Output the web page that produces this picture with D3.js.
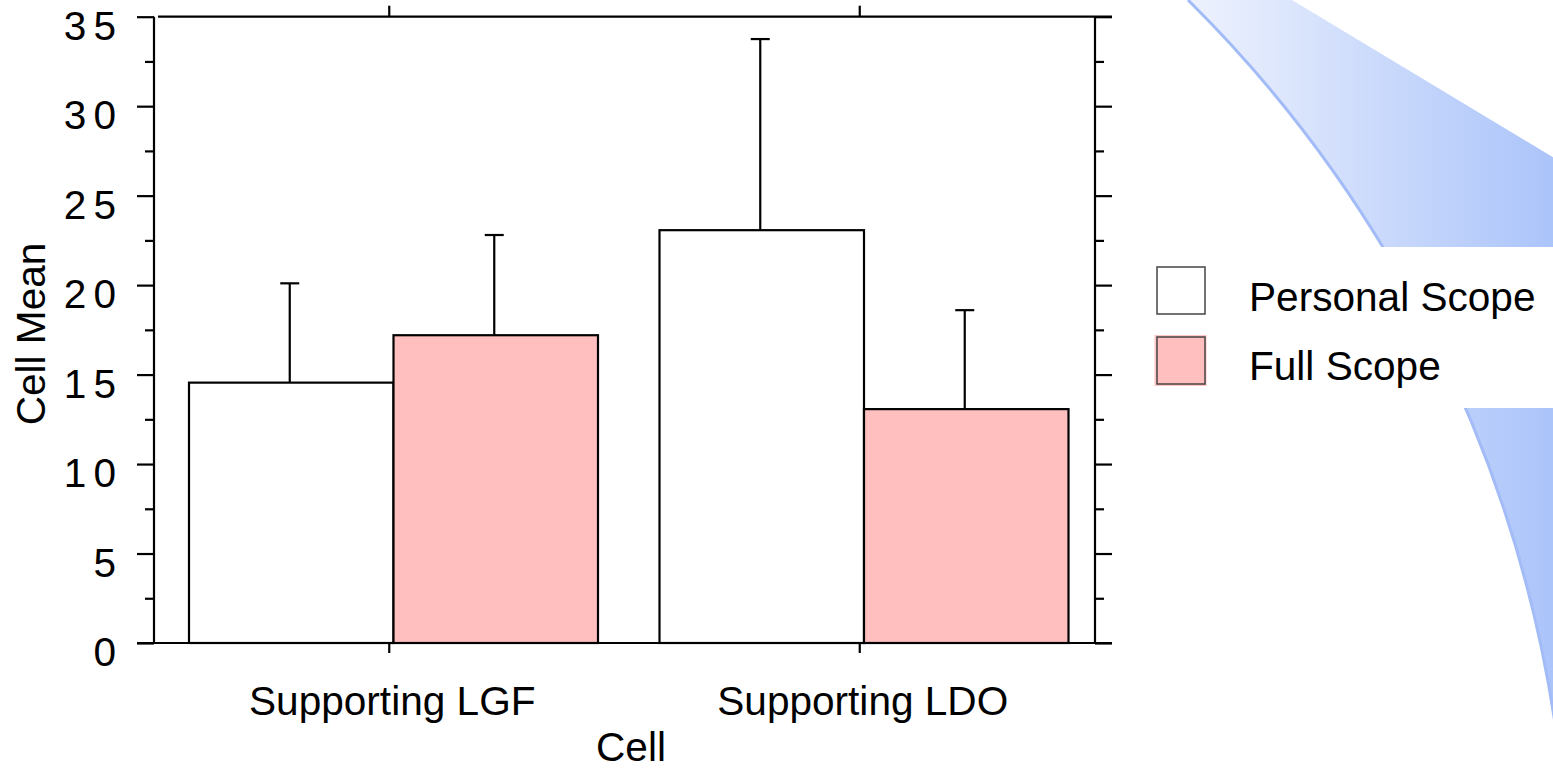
<!DOCTYPE html>
<html>
<head>
<meta charset="utf-8">
<script src="https://cdn.jsdelivr.net/npm/d3@7"></script>
<style>
  html, body { margin: 0; padding: 0; background: #fff; }
  svg { display: block; }
  text { font-family: "Liberation Sans", Arial, sans-serif; fill: #000; }
</style>
</head>
<body>
<svg id="chart" width="1553" height="769"></svg>
<script>
// ---- data ----
const categories = ["Supporting LGF", "Supporting LDO"];
const seriesNames = ["Personal Scope", "Full Scope"];
const personalMeans = [14.55, 23.07];
const personalErrTop = [20.1, 33.75];
const fullMeans = [17.2, 13.07];
const fullErrTop = [22.8, 18.6];
const yTickValues = [0, 5, 10, 15, 20, 25, 30, 35];
const seriesColors = ["#ffffff", "#ffbfbf"];

const svg = d3.select("#chart");
const FS = 40.6;

// ---- decorative background shape ----
const defs = svg.append("defs");
const grad = defs.append("linearGradient").attr("id", "bg").attr("gradientUnits", "userSpaceOnUse")
  .attr("x1", 1188).attr("y1", 0).attr("x2", 1553).attr("y2", 0);
grad.append("stop").attr("offset", 0).attr("stop-color", "#eef2fd");
grad.append("stop").attr("offset", 1).attr("stop-color", "#abc4fa");
const R = 1285;
svg.append("path")
  .attr("d", `M1188,0 A${R},${R} 0 0 1 1556,730 L1556,159 L1292,0 Z`)
  .attr("fill", "url(#bg)");
svg.append("path")
  .attr("d", `M1188,0 A${R},${R} 0 0 1 1556,730`)
  .attr("fill", "none").attr("stroke", "#a3bcf7").attr("stroke-width", 3);
// legend background occludes the shape
svg.append("rect").attr("x", 1120).attr("y", 247).attr("width", 440).attr("height", 161).attr("fill", "#fff");

// ---- scales ----
const x0 = d3.scaleBand().domain(categories).range([154, 1095]).padding(0);
const x1 = d3.scaleBand().domain(seriesNames).range([35, 444]).padding(0);
const y = d3.scaleLinear().domain([0, 35]).range([643, 16.7]);

const data = categories.map((c, i) => ({
  cat: c,
  vals: [
    { s: seriesNames[0], v: personalMeans[i], e: personalErrTop[i] },
    { s: seriesNames[1], v: fullMeans[i], e: fullErrTop[i] }
  ]
}));

// ---- bars ----
const g = svg.append("g");
const groups = g.selectAll("g.grp").data(data).join("g")
  .attr("transform", d => `translate(${x0(d.cat)},0)`);

groups.selectAll("line.err").data(d => d.vals).join("line")
  .attr("x1", d => x1(d.s) + x1.bandwidth() / 2 - 1.5)
  .attr("x2", d => x1(d.s) + x1.bandwidth() / 2 - 1.5)
  .attr("y1", d => y(d.v)).attr("y2", d => y(d.e))
  .attr("stroke", "#000").attr("stroke-width", 2.2);
groups.selectAll("line.cap").data(d => d.vals).join("line")
  .attr("x1", d => x1(d.s) + x1.bandwidth() / 2 - 11)
  .attr("x2", d => x1(d.s) + x1.bandwidth() / 2 + 8)
  .attr("y1", d => y(d.e)).attr("y2", d => y(d.e))
  .attr("stroke", "#000").attr("stroke-width", 2.2);

groups.selectAll("rect").data(d => d.vals).join("rect")
  .attr("x", d => x1(d.s))
  .attr("width", x1.bandwidth())
  .attr("y", d => y(d.v))
  .attr("height", d => y(0) - y(d.v))
  .attr("fill", (d, i) => seriesColors[i])
  .attr("stroke", "#000").attr("stroke-width", 2.2);

// ---- axes ----
const minorTicks = d3.range(2.5, 35, 5);
function styleAxis(sel) {
  sel.select(".domain").remove();
  sel.selectAll("line").attr("stroke", "#000").attr("stroke-width", 2.2);
}
svg.append("g").attr("transform", "translate(154,0)")
  .call(d3.axisLeft(y).tickValues(yTickValues).tickSize(17).tickFormat(""))
  .call(styleAxis);
svg.append("g").attr("transform", "translate(154,0)")
  .call(d3.axisLeft(y).tickValues(minorTicks).tickSize(9).tickFormat(""))
  .call(styleAxis);
svg.append("g").attr("transform", "translate(1095,0)")
  .call(d3.axisRight(y).tickValues(yTickValues).tickSize(17).tickFormat(""))
  .call(styleAxis);
svg.append("g").attr("transform", "translate(1095,0)")
  .call(d3.axisRight(y).tickValues(minorTicks).tickSize(9).tickFormat(""))
  .call(styleAxis);
svg.append("g").attr("transform", "translate(0,16.7)")
  .call(d3.axisTop(x0).tickSize(11).tickFormat(""))
  .call(styleAxis);
svg.append("g").attr("transform", "translate(0,643)")
  .call(d3.axisBottom(x0).tickSize(10).tickFormat(""))
  .call(styleAxis);

// frame lines
const frame = svg.append("g").attr("stroke", "#000").attr("stroke-width", 2.2);
frame.append("line").attr("x1", 154).attr("x2", 154).attr("y1", 16.7).attr("y2", 643);
frame.append("line").attr("x1", 1095).attr("x2", 1095).attr("y1", 16.7).attr("y2", 643);
frame.append("line").attr("x1", 158).attr("x2", 1112).attr("y1", 16.7).attr("y2", 16.7);
frame.append("line").attr("x1", 137).attr("x2", 1112).attr("y1", 643).attr("y2", 643);

// y tick labels
svg.append("g").selectAll("text").data(yTickValues).join("text")
  .attr("x", 123).attr("y", d => y(d) + 23)
  .attr("text-anchor", "end")
  .attr("font-size", FS)
  .attr("letter-spacing", 7)
  .text(d => d);

// category labels
svg.append("g").selectAll("text").data(categories).join("text")
  .attr("x", d => x0(d) + x0.bandwidth() / 2 + 3)
  .attr("y", 715)
  .attr("text-anchor", "middle")
  .attr("font-size", FS)
  .text(d => d);

// axis titles
svg.append("text").attr("x", 631).attr("y", 761).attr("text-anchor", "middle").attr("font-size", FS).text("Cell");
svg.append("text").attr("transform", "translate(45,334) rotate(-90)").attr("text-anchor", "middle").attr("font-size", FS).text("Cell Mean");

// ---- legend ----
const leg = svg.append("g");
const legY = [267, 337];
leg.append("rect").attr("x", 1154.5).attr("y", 335).attr("width", 52).attr("height", 51).attr("fill", "#ffc4c4");
leg.selectAll("rect.box").data(seriesNames).join("rect")
  .attr("x", 1157).attr("y", (d, i) => legY[i])
  .attr("width", 48).attr("height", 47)
  .attr("fill", (d, i) => seriesColors[i])
  .attr("stroke", "#444").attr("stroke-width", 1.5);
leg.selectAll("text").data(seriesNames).join("text")
  .attr("x", 1249).attr("y", (d, i) => [311, 380][i])
  .attr("font-size", FS)
  .text(d => d);
</script>
</body>
</html>
